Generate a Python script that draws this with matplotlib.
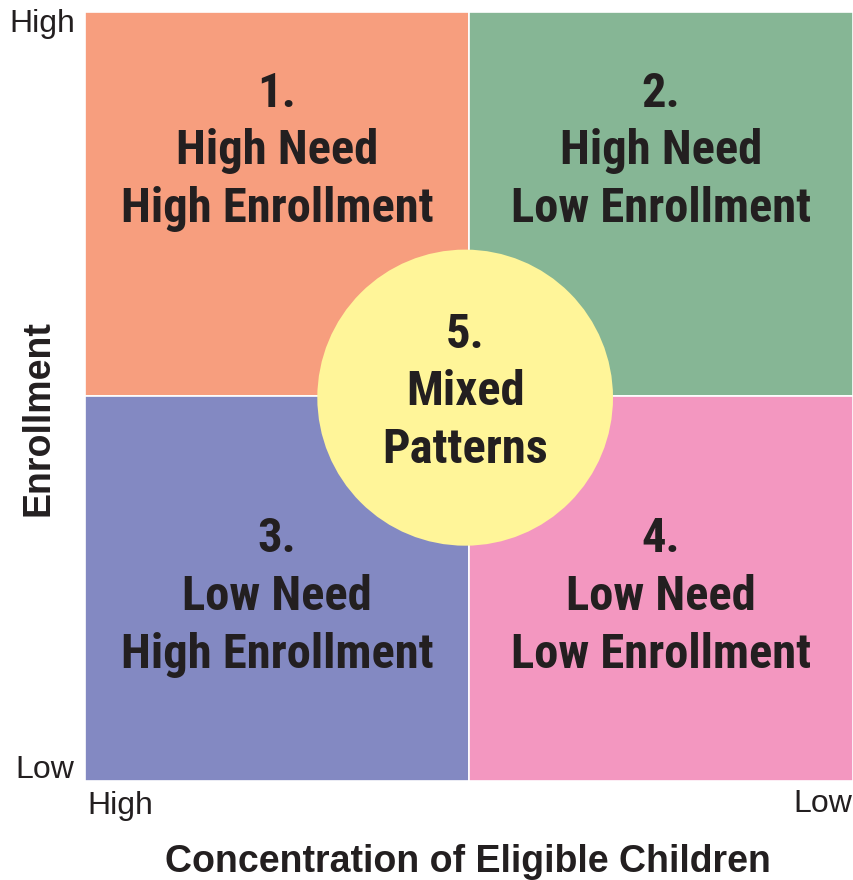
import matplotlib
matplotlib.use("Agg")
import matplotlib.pyplot as plt
from matplotlib import font_manager as fm
from matplotlib.patches import Rectangle, Circle

# ---- data ----
quadrant_labels = ["1.\nHigh Need\nHigh Enrollment",
                   "2.\nHigh Need\nLow Enrollment",
                   "3.\nLow Need\nHigh Enrollment",
                   "4.\nLow Need\nLow Enrollment"]
quadrant_x = [0, 1, 0, 1]
quadrant_y = [1, 1, 0, 0]
quadrant_colors = ["#F79E7E", "#86B695", "#8389C2", "#F397C0"]
center_label = "5.\nMixed\nPatterns"
center_color = "#FFF599"
x_ticklabels = ["High", "Low"]
y_ticklabels = ["Low", "High"]
x_title = "Concentration of Eligible Children"
y_title = "Enrollment"

names = {f.name for f in fm.fontManager.ttflist}
cond_candidates = ["Roboto Condensed", "Liberation Sans Narrow", "DejaVu Sans Condensed", "Roboto", "DejaVu Sans"]
big_font = next(c for c in cond_candidates if c in names)
plain_font = "Liberation Sans" if "Liberation Sans" in names else "DejaVu Sans"
txt_color = "#231F20"

W, H = 854, 880
AX_L, AX_T, AX_W, AX_H = 85, 12, 768, 769
fig = plt.figure(figsize=(W / 100, H / 100), dpi=100)
ax = fig.add_axes([AX_L / W, (H - AX_T - AX_H) / H, AX_W / W, AX_H / H])
ax.set_xlim(0, 2)
ax.set_ylim(0, 2)
ax.axis("off")

px_per_unit_y = AX_H / 2.0
big_fs = 35
# baseline offsets (pixels, downward) of the three lines from each block's first baseline
line_offsets = [0, 57, 115]


def draw_block(x, y_top_baseline, text, z):
    for i, line in enumerate(text.split("\n")):
        ax.text(x, y_top_baseline - line_offsets[i] / px_per_unit_y, line,
                ha="center", va="baseline", fontsize=big_fs, fontweight="bold",
                family=big_font, color=txt_color, zorder=z)


for lab, qx, qy, col in zip(quadrant_labels, quadrant_x, quadrant_y, quadrant_colors):
    ax.add_patch(Rectangle((qx, qy), 1, 1, facecolor=col, edgecolor="white", lw=1.2, zorder=1))
    first_off = 95 if qy == 1 else 156
    draw_block(qx + 0.5, qy + 1 - first_off / px_per_unit_y, lab, 2)

ax.add_patch(Circle((0.99, 0.997), 0.385, facecolor=center_color, edgecolor="none", zorder=3))
draw_block(0.99, 0.997 + 50 / px_per_unit_y, center_label, 4)

# tick labels
fs_tick = 23
fig.text(75 / W, 1 - 24 / H, y_ticklabels[1], ha="right", va="center", fontsize=fs_tick,
         family=plain_font, color=txt_color)
fig.text(74 / W, 1 - 770 / H, y_ticklabels[0], ha="right", va="center", fontsize=fs_tick,
         family=plain_font, color=txt_color)
fig.text(87 / W, 1 - 806 / H, x_ticklabels[0], ha="left", va="center", fontsize=fs_tick,
         family=plain_font, color=txt_color)
fig.text(852 / W, 1 - 804 / H, x_ticklabels[1], ha="right", va="center", fontsize=fs_tick,
         family=plain_font, color=txt_color)

fig.text(468 / W, 1 - 862 / H, x_title, ha="center", va="center", fontsize=27,
         fontweight="bold", family=plain_font, color=txt_color)
fig.text(39 / W, 1 - 418 / H, y_title, ha="center", va="center", rotation=90, fontsize=27,
         fontweight="bold", family=plain_font, color=txt_color)

fig.savefig("out.png", dpi=100)
